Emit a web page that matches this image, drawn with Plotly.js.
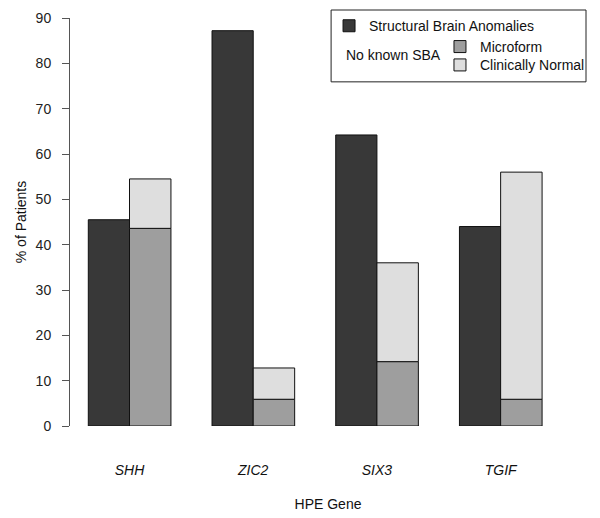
<!DOCTYPE html>
<html>
<head>
<meta charset="utf-8">
<script src="https://cdn.plot.ly/plotly-3.0.1.min.js"></script>
<style>html,body{margin:0;padding:0;background:#fff;}#chart{width:600px;height:518px;}</style>
</head>
<body>
<div id="chart"></div>
<script>
const genes = ['SHH', 'ZIC2', 'SIX3', 'TGIF'];
const geneLabels = ['<i>SHH</i>', '<i>ZIC2</i>', '<i>SIX3</i>', '<i>TGIF</i>'];
const sba = [45.5, 87.2, 64.2, 44.0];
const microform = [43.6, 5.9, 14.2, 5.9];
const clinicallyNormal = [10.9, 6.9, 21.8, 50.1];

const FONT = 'Liberation Sans, Arial, sans-serif';
const line = {color: '#111', width: 1};

const traces = [
  {type: 'bar', name: 'Structural Brain Anomalies', x: genes, y: sba,
   offset: -0.333, width: 0.333, marker: {color: '#383838', line: line},
   legend: 'legend'},
  {type: 'bar', name: 'Microform', x: genes, y: microform,
   offset: 0, width: 0.335, marker: {color: '#9e9e9e', line: line},
   legend: 'legend2'},
  {type: 'bar', name: 'Clinically Normal', x: genes, y: clinicallyNormal, base: microform,
   offset: 0, width: 0.335, marker: {color: '#dedede', line: line},
   legend: 'legend3'}
];

const legendCommon = {xanchor: 'left', yanchor: 'middle', bgcolor: 'rgba(0,0,0,0)',
  borderwidth: 0, font: {family: FONT, size: 14, color: '#111'}};

const layout = {
  width: 600, height: 518,
  margin: {l: 70, r: 10, t: 17, b: 92},
  paper_bgcolor: '#fff', plot_bgcolor: '#fff',
  font: {family: FONT, size: 14, color: '#111'},
  barmode: 'overlay',
  showlegend: true,
  xaxis: {
    type: 'category', range: [-0.481, 3.69],
    tickvals: genes, ticktext: geneLabels,
    showline: false, showgrid: false, zeroline: false, ticks: '',
    ticklabelstandoff: 34,
    tickfont: {family: FONT, size: 14, color: '#111'},
    title: {text: 'HPE Gene', font: {family: FONT, size: 14, color: '#111'}, standoff: 22}
  },
  yaxis: {
    range: [0, 90], tickvals: [0,10,20,30,40,50,60,70,80,90],
    showline: true, linecolor: '#555', linewidth: 1,
    ticks: 'outside', ticklen: 7, tickcolor: '#555', tickwidth: 1,
    ticklabelstandoff: 8,
    showgrid: false, zeroline: false,
    tickfont: {family: FONT, size: 14, color: '#222'},
    title: {text: '% of Patients', font: {family: FONT, size: 14, color: '#111'}, standoff: 5}
  },
  legend: Object.assign({x: 0.502, y: 0.980}, legendCommon),
  legend2: Object.assign({x: 0.717, y: 0.929}, legendCommon),
  legend3: Object.assign({x: 0.717, y: 0.884}, legendCommon),
  shapes: [
    {type: 'rect', xref: 'paper', yref: 'paper', x0: 0.506, x1: 1.0, y0: 0.8435, y1: 1.0196,
     line: {color: '#222', width: 1}, fillcolor: 'rgba(0,0,0,0)'}
  ],
  annotations: [
    {text: 'No known SBA', xref: 'paper', yref: 'paper', x: 0.5308, y: 0.9095,
     xanchor: 'left', yanchor: 'middle', showarrow: false,
     font: {family: FONT, size: 14, color: '#111'}}
  ]
};

Plotly.newPlot('chart', traces, layout, {staticPlot: true, displayModeBar: false});
</script>
</body>
</html>
